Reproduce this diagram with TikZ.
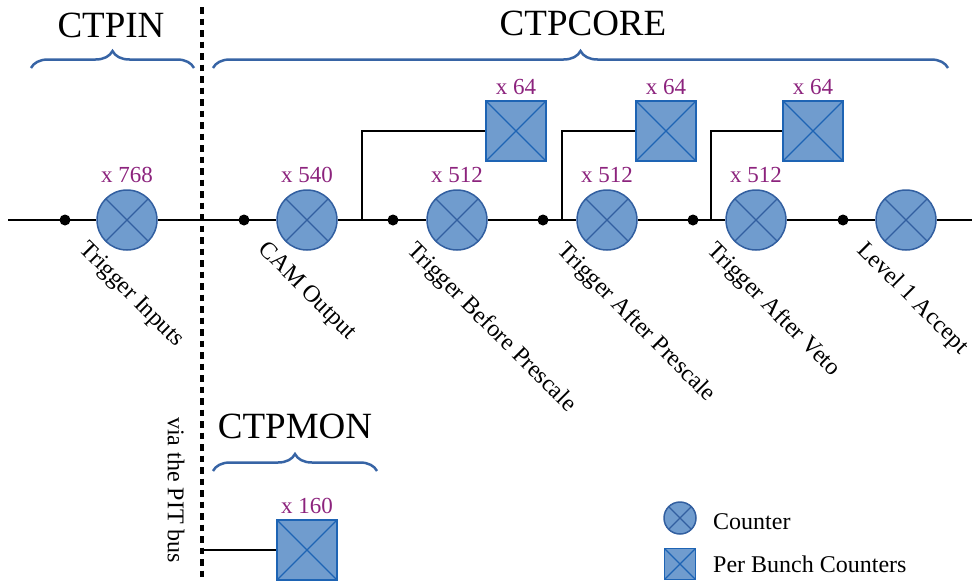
\documentclass[tikz,border=0pt]{standalone}
\usepackage{fontspec}
\setmainfont{Liberation Serif}
\usetikzlibrary{decorations.pathreplacing,calc}
\definecolor{cfill}{RGB}{112,156,206}
\definecolor{cdraw}{RGB}{50,95,160}
\definecolor{sdraw}{RGB}{30,100,180}
\definecolor{bracecol}{RGB}{55,100,165}
\definecolor{numcol}{RGB}{140,35,125}
\tikzset{
  xcross/.style={path picture={
     \draw[#1,line width=1.3pt] (path picture bounding box.north west) -- (path picture bounding box.south east)
                                (path picture bounding box.north east) -- (path picture bounding box.south west);}},
  counter/.style={circle, fill=cfill, draw=cdraw, line width=1.5pt, minimum size=60pt, inner sep=0pt, xcross=cdraw},
  pbc/.style={rectangle, fill=cfill, draw=sdraw, line width=1.5pt, minimum size=60pt, inner sep=0pt, xcross=sdraw},
  lcounter/.style={counter, minimum size=32pt},
  lpbc/.style={pbc, minimum size=31pt},
  dotnode/.style={circle, fill=black, inner sep=0pt, minimum size=11pt},
  wire/.style={line width=2pt, black},
  num/.style={text=numcol, anchor=base, inner sep=0pt, font=\fontsize{23}{27}\selectfont},
  rotlbl/.style={rotate=-45, anchor=north west, inner sep=0pt, font=\fontsize{24}{28}\selectfont},
  title/.style={anchor=base, inner sep=0pt, font=\fontsize{37}{42}\selectfont},
  bracedeco/.style={draw=bracecol, line width=2.5pt, decorate, decoration={brace, amplitude=17pt}},
  dashline/.style={line width=3.2pt, dash pattern=on 6.5pt off 5pt},
  legtext/.style={anchor=base west, inner sep=0pt, font=\fontsize{24}{28}\selectfont},
}
\begin{document}
\begin{tikzpicture}[x=1pt,y=-1pt]
\useasboundingbox (0,0) rectangle (972,581);
% divider
\coordinate (dtop) at (202,7);
\coordinate (dbot) at (202,581);
\draw[dashline] (dtop) -- (dbot);
% titles and braces
\node[title] (tin) at (111,37) {CTPIN};
\node[title] (tcore) at (583,35) {CTPCORE};
\node[title] (tmon) at (295,438) {CTPMON};
\coordinate (bin1) at (31,68); \coordinate (bin2) at (194,68);
\coordinate (bcore1) at (213,68); \coordinate (bcore2) at (948,68);
\coordinate (bmon1) at (213,471); \coordinate (bmon2) at (377,471);
\draw[bracedeco] (bin1) -- (bin2);
\draw[bracedeco] (bcore1) -- (bcore2);
\draw[bracedeco] (bmon1) -- (bmon2);
% main line
\coordinate (lstart) at (8,220);
\coordinate (lend) at (972,220);
\node[counter] (c1) at (127,220) {};
\node[counter] (c2) at (307,220) {};
\node[counter] (c3) at (457,220) {};
\node[counter] (c4) at (607,220) {};
\node[counter] (c5) at (756,220) {};
\node[counter] (c6) at (906,220) {};
\draw[wire] (lstart) -- (c1.west);
\draw[wire] (c1.east) -- (c2.west);
\draw[wire] (c2.east) -- (c3.west);
\draw[wire] (c3.east) -- (c4.west);
\draw[wire] (c4.east) -- (c5.west);
\draw[wire] (c5.east) -- (c6.west);
\draw[wire] (c6.east) -- (lend);
\node[dotnode] (d1) at (65,220) {};
\node[dotnode] (d2) at (244,220) {};
\node[dotnode] (d3) at (393,220) {};
\node[dotnode] (d4) at (543,220) {};
\node[dotnode] (d5) at (693,220) {};
\node[dotnode] (d6) at (843,220) {};
% per bunch counters
\node[pbc] (s1) at (516,131) {};
\node[pbc] (s2) at (666,131) {};
\node[pbc] (s3) at (813,131) {};
\coordinate (b1) at (362,220);
\coordinate (b2) at (562,220);
\coordinate (b3) at (711,220);
\draw[wire] (b1) |- (s1.west);
\draw[wire] (b2) |- (s2.west);
\draw[wire] (b3) |- (s3.west);
% numbers
\node[num] (n1) at (127,182) {x 768};
\node[num] (n2) at (307,182) {x 540};
\node[num] (n3) at (457,182) {x 512};
\node[num] (n4) at (607,182) {x 512};
\node[num] (n5) at (756,182) {x 512};
\node[num] (m1) at (516,94) {x 64};
\node[num] (m2) at (666,94) {x 64};
\node[num] (m3) at (813,94) {x 64};
% rotated labels
\node[rotlbl] (t1) at (90,239) {Trigger Inputs};
\node[rotlbl] (t2) at (269,239) {CAM Output};
\node[rotlbl] (t3) at (418,239) {Trigger Before Prescale};
\node[rotlbl] (t4) at (568,239) {Trigger After Prescale};
\node[rotlbl] (t5) at (718,239) {Trigger After Veto};
\node[rotlbl] (t6) at (868,239) {Level 1 Accept};
% CTPMON
\node[pbc] (s4) at (307,550) {};
\node[num] (m4) at (307,513) {x 160};
\coordinate (pit) at (204,550);
\draw[wire] (pit) -- (s4.west);
\node[rotate=-90, inner sep=0pt, font=\fontsize{24}{28}\selectfont] (via) at (176,490) {via the PIT bus};
% legend
\node[lcounter] (lc) at (680,518) {};
\node[lpbc] (ls) at (680,564) {};
\node[legtext] (lct) at (713,529) {Counter};
\node[legtext] (lst) at (713,572) {Per Bunch Counters};
\end{tikzpicture}
\end{document}
